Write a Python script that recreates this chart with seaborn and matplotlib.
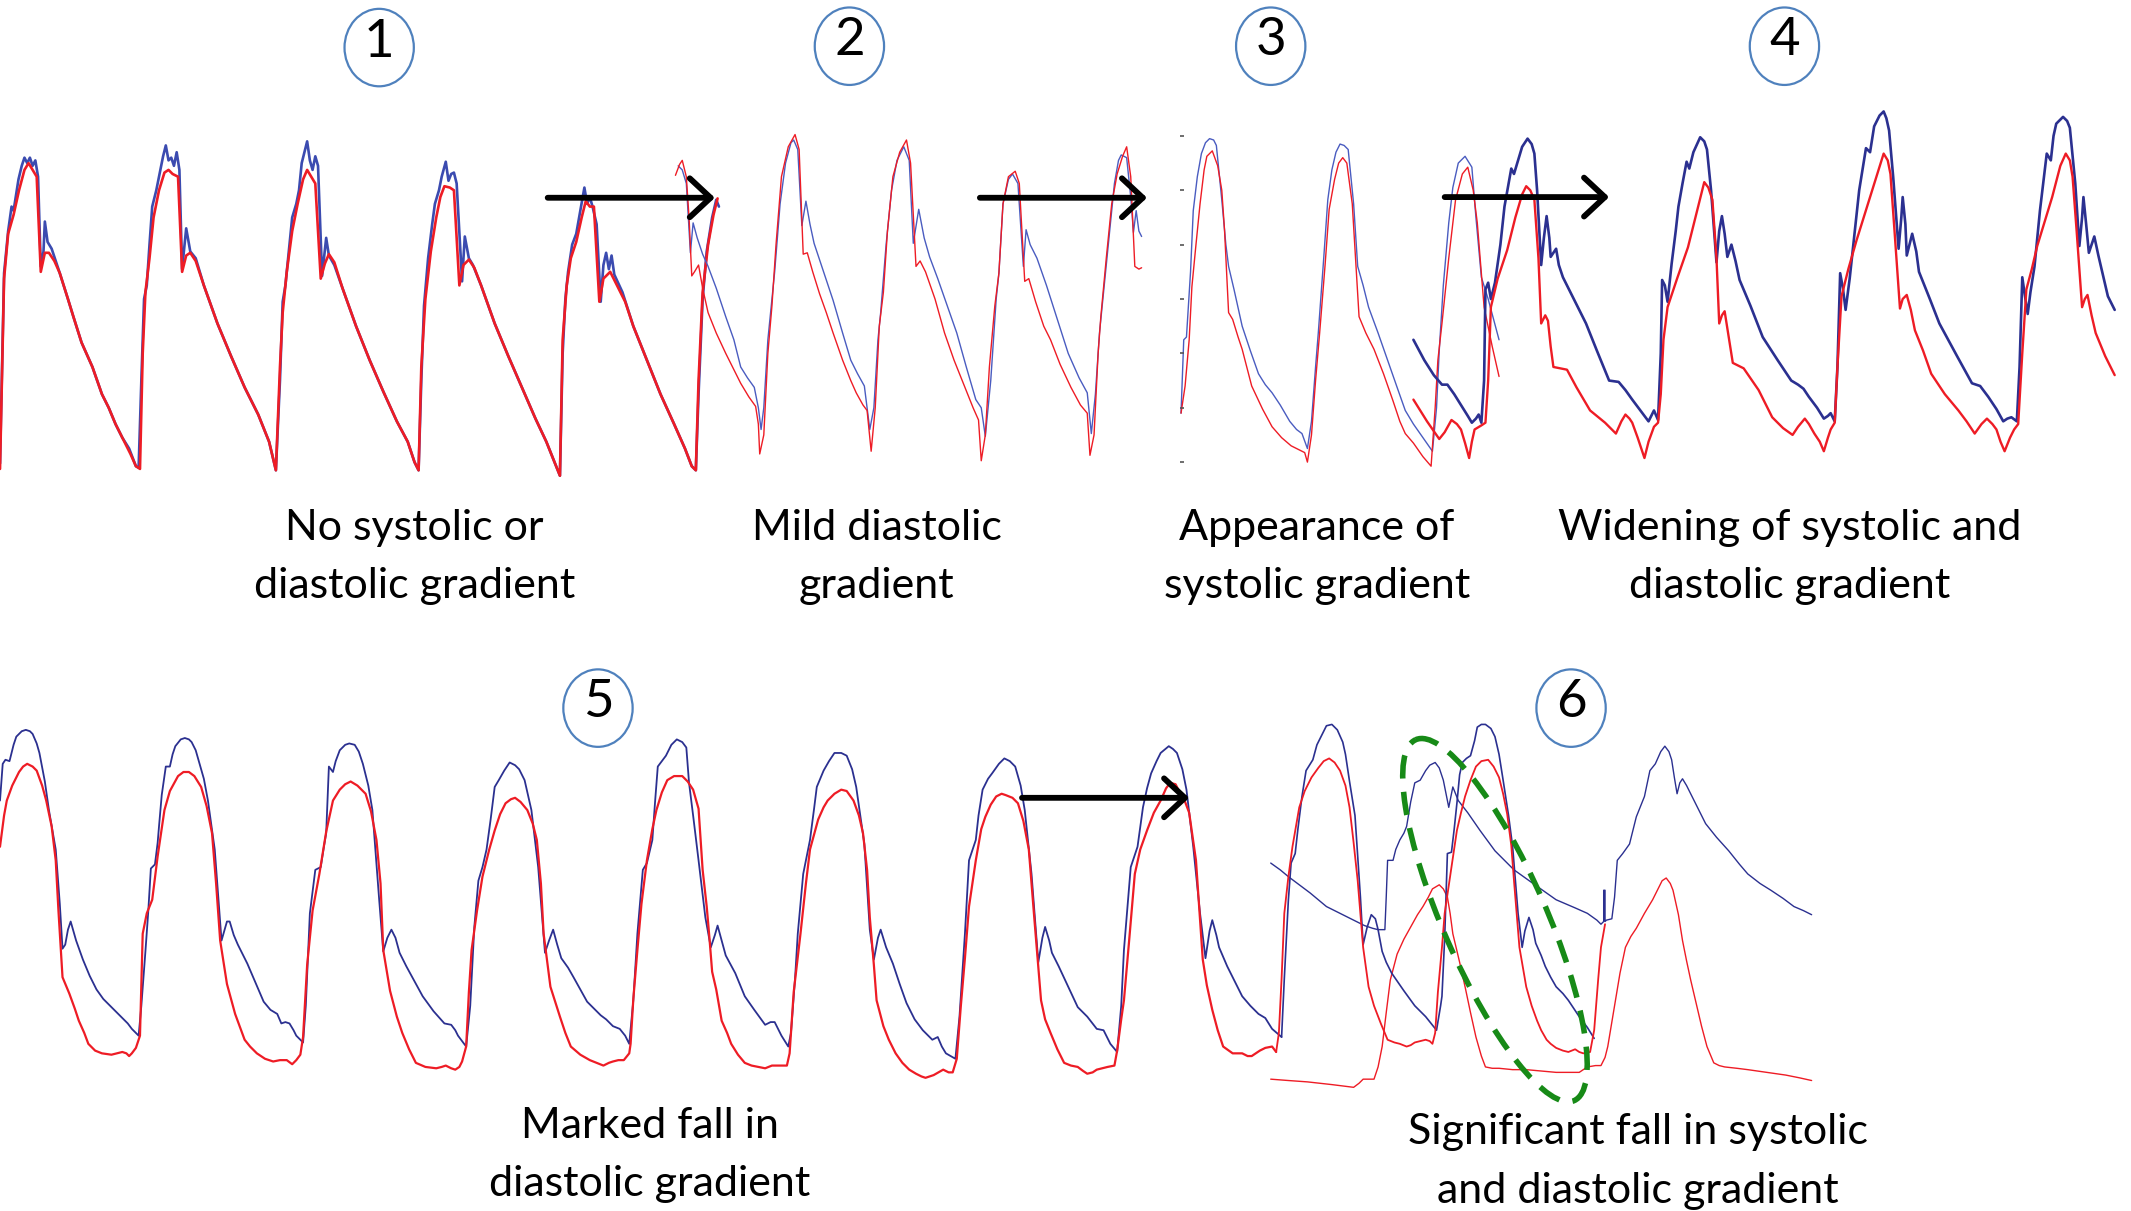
import matplotlib
matplotlib.use("Agg")
import matplotlib.pyplot as plt
import seaborn as sns
from matplotlib.patches import Ellipse

# ---------------- data (picture coordinates) ----------------
P1_BLUE = [(0,341),(3,201),(6,170),(8.5,152),(10,155),(13.6,132),(16,122),(18,116),(20,120),(22,116),(24,122),(26,118),(28,130),(30,196),(32,185),(33,163),(35,178),(38,183),(42,195),(44,201),(50,220),(54,233),(60,252),(68,270),(75,290),(80,300),(85,312),(90,322),(95,330),(100,343),(102,344),
           (104,280),(106,220),(108,210),(110,180),(112,152),(115,140),(117,130),(120,115),(122,107),(124,118),(126,116),(128,122),(130,112),(132,125),(134,198),(137,168),(140,185),(144,190),(150,210),(160,238),(170,262),(180,285),(190,305),(198,325),(203,346),
           (206,280),(208,222),(210,210),(212,190),(215,160),(218,150),(220,140),(222,120),(224,112),(226,104),(228,118),(230,125),(232,115),(234,122),(237,203),(240,175),(242,188),(246,195),(252,212),(262,240),(272,265),(282,288),(292,310),(300,325),(305,340),(308,346),
           (310,280),(312,225),(315,190),(318,165),(320,150),(323,140),(325,130),(328,119),(330,133),(332,128),(334,127),(336,135),(340,207),(342,174),(345,190),(348,195),(354,210),(364,238),(374,262),(384,285),(394,308),(402,325),(408,340),(412,350),
           (414,260),(416,220),(418,200),(421,180),(424,172),(427,155),(430,138),(432,150),(434,145),(436,152),(439,165),(442,222),(444,195),(446,186),(448,198),(450,188),(452,202),(458,215),(466,240),(476,265),(486,290),(496,312),(504,330),(509,343),(512,346),
           (514,290),(517,220),(520,185),(524,160),(527,147),(529,152)]
P1_RED = [(0,345),(3,205),(6,172),(10,158),(14,140),(18,125),(21,120),(24,125),(27,130),(30,200),(33,186),(36,186),(40,192),(44,201),(50,220),(54,233),(60,252),(68,270),(75,290),(80,300),(85,312),(90,322),(96,334),(100,343),(103,345),
          (105,260),(107,215),(110,190),(113,160),(117,140),(121,127),(124,125),(127,128),(131,130),(134,200),(137,188),(140,186),(144,192),(150,210),(160,238),(170,262),(180,285),(190,305),(198,325),(203,346),
          (206,270),(208,230),(211,200),(215,170),(219,150),(223,132),(226,125),(229,130),(232,135),(236,205),(239,194),(242,187),(246,193),(252,212),(262,240),(272,265),(282,288),(292,310),(300,325),(305,340),(308,346),
          (310,270),(313,220),(317,185),(321,160),(324,145),(327,137),(331,138),(334,140),(338,210),(341,195),(345,191),(349,197),(354,210),(364,238),(374,262),(384,285),(394,308),(402,325),(408,340),(412,350),
          (414,250),(417,210),(420,190),(424,178),(428,160),(431,148),(434,152),(437,152),(441,222),(444,205),(449,200),(454,210),(460,222),(466,240),(476,265),(486,290),(496,312),(504,330),(509,343),(512,346),
          (514,280),(517,215),(521,180),(525,158),(528,146)]

P2_BLUE = [(499,122),(502,125),(505,135),(508,186),(510,164),(513,175),(517,187),(521,196),(527,212),(534,233),(540,250),(545,270),(550,278),(555,285),(558,300),(560,316),
           (562,300),(565,250),(567,230),(570,200),(574,150),(578,120),(582,105),(584,103),(587,110),(590,166),(593,148),(596,165),(599,179),(606,200),(613,221),(620,245),(626,265),(631,275),(636,284),(640,316),
           (643,300),(646,250),(648,230),(652,180),(656,140),(660,118),(665,108),(669,118),(672,179),(676,154),(680,175),(684,189),(690,205),(697,225),(704,245),(711,270),(718,294),(722,300),(725,321),
           (729,280),(733,220),(735,201),(738,150),(742,132),(745,128),(749,135),(753,196),(755,169),(758,180),(763,190),(770,210),(778,235),(786,260),(794,278),(800,289),(803,319),
           (806,290),(809,245),(812,215),(816,175),(820,135),(823,118),(825,114),(829,116),(832,145),(834,171),(836,155),(838,170),(840,174)]
P2_RED = [(497,129),(500,121),(502,118),(505,130),(507,160),(509,203),(511,200),(514,195),(517,212),(521,230),(527,245),(534,260),(540,272),(545,282),(551,292),(556,299),(558,312),(559,334),
          (562,320),(565,260),(568,225),(571,180),(575,130),(580,108),(585,99),(588,110),(591,187),(594,186),(598,200),(603,216),(608,230),(613,245),(620,265),(626,280),(630,289),(635,298),(638,302),(641,332),
          (644,300),(647,240),(650,215),(653,170),(657,130),(662,112),(667,103),(670,120),(674,196),(677,192),(681,200),(688,220),(695,245),(702,265),(710,285),(716,300),(720,309),(722,339),
          (725,320),(728,270),(732,225),(735,201),(738,150),(742,130),(747,126),(750,135),(754,207),(757,205),(762,222),(768,240),(773,250),(780,268),(788,285),(795,298),(800,304),(802,335),
          (805,320),(808,260),(810,233),(814,190),(818,150),(822,128),(826,115),(829,108),(832,130),(835,196),(838,198),(840,197)]

P3_BLUE = [(869,304),(871,250),(873,248),(876,200),(878,155),(881,130),(884,113),(887,105),(890,102),(893,103),(895,107),(899,147),(902,180),(904,196),(908,213),(914,240),(920,258),(926,275),(931,283),(936,289),(942,298),(949,310),(954,316),(958,319),(962,330),
           (965,310),(968,270),(970,245),(974,190),(977,147),(980,125),(983,112),(986,106),(989,107),(992,110),(996,150),(999,196),(1003,210),(1007,226),(1014,245),(1021,265),(1028,285),(1034,302),(1040,312),(1047,322),(1054,332),
           (1057,300),(1059,258),(1062,210),(1066,164),(1069,138),(1073,120),(1078,115),(1083,123),(1086,160),(1090,204),(1095,220),(1099,235),(1103,250)]
P3_RED = [(869,304),(872,284),(875,250),(877,211),(880,180),(883,150),(886,125),(888,115),(892,111),(896,122),(899,140),(901,169),(904,230),(907,235),(911,248),(914,257),(921,284),(929,301),(936,314),(943,322),(950,328),(956,331),(960,333),(962,340),
          (965,320),(968,280),(971,245),(975,195),(978,154),(982,132),(985,120),(988,116),(991,120),(995,150),(1000,233),(1005,245),(1011,257),(1018,275),(1025,295),(1030,310),(1034,319),(1040,326),(1047,336),(1053,343),
          (1056,300),(1058,265),(1061,238),(1066,190),(1071,147),(1076,128),(1080,123),(1084,140),(1087,164),(1092,226),(1098,255),(1103,277)]
P3_TICKS_Y = [100, 140, 180, 220, 260, 300, 340]

P4_BLUE = [(1040,250),(1048,265),(1055,276),(1061,283),(1065,283),(1070,290),(1075,298),(1080,306),(1083,311),(1086,308),(1088,305),(1090,311),(1092,280),(1093,213),(1095,208),(1097,220),(1100,208),(1104,180),(1107,152),(1110,135),(1112,124),(1114,128),(1117,118),(1120,108),(1124,102),(1127,106),(1129,113),(1131,140),(1134,195),(1136,175),(1138,159),(1140,175),(1141,189),(1143,186),(1145,183),(1147,195),(1150,204),(1158,220),(1167,238),(1175,258),(1184,280),(1191,281),(1196,287),(1201,294),(1207,302),(1213,310),(1215,306),(1217,302),(1220,309),
           (1222,260),(1223,206),(1225,210),(1227,222),(1230,194),(1233,170),(1235,152),(1238,135),(1241,119),(1243,124),(1246,112),(1251,101),(1254,104),(1256,110),(1259,140),(1263,193),(1265,170),(1267,159),(1269,172),(1271,189),(1274,180),(1277,192),(1280,206),(1288,225),(1297,248),(1308,265),(1318,280),(1323,283),(1327,286),(1331,292),(1337,300),(1342,308),(1345,306),(1347,304),(1350,310),
           (1352,270),(1354,201),(1356,212),(1358,228),(1361,205),(1364,177),(1368,140),(1373,109),(1376,112),(1379,93),(1383,85),(1386,82),(1388,87),(1390,96),(1393,130),(1397,183),(1399,160),(1400,145),(1402,165),(1403,188),(1405,180),(1407,172),(1410,185),(1412,200),(1420,220),(1427,238),(1440,262),(1451,282),(1457,284),(1463,292),(1469,301),(1474,310),(1477,308),(1480,307),(1484,310),
           (1486,270),(1488,204),(1490,218),(1492,231),(1494,215),(1497,196),(1501,155),(1506,113),(1509,118),(1511,100),(1513,91),(1518,86),(1521,89),(1523,94),(1527,135),(1530,181),(1532,160),(1533,145),(1535,165),(1537,186),(1539,180),(1541,174),(1544,188),(1547,201),(1551,218),(1556,228)]
P4_RED = [(1040,294),(1050,310),(1059,323),(1063,318),(1068,309),(1072,312),(1075,316),(1078,326),(1081,337),(1083,325),(1085,316),(1090,313),(1093,311),(1095,280),(1097,226),(1102,205),(1109,184),(1115,160),(1120,143),(1123,137),(1126,140),(1129,147),(1132,190),(1134,238),(1137,232),(1139,236),(1141,255),(1143,270),(1148,271),(1153,272),(1160,285),(1170,302),(1181,311),(1189,319),(1193,310),(1196,305),(1199,308),(1201,311),(1205,322),(1210,337),(1213,325),(1217,314),(1220,311),
          (1222,290),(1224,250),(1227,226),(1234,205),(1242,182),(1248,158),(1254,134),(1257,138),(1260,147),(1263,190),(1265,238),(1267,232),(1269,229),(1272,248),(1275,267),(1283,271),(1294,287),(1304,307),(1312,315),(1319,320),(1323,314),(1328,308),(1331,312),(1335,319),(1339,325),(1342,332),(1345,322),(1347,316),(1350,311),
          (1352,270),(1355,218),(1360,198),(1366,177),(1376,145),(1386,113),(1389,118),(1391,128),(1394,170),(1398,227),(1400,220),(1403,217),(1406,228),(1409,243),(1415,258),(1421,275),(1431,290),(1441,302),(1447,310),(1453,319),(1458,312),(1462,308),(1466,312),(1469,316),(1472,325),(1475,332),(1479,322),(1482,316),(1485,312),
          (1488,260),(1491,213),(1495,198),(1499,181),(1510,145),(1516,122),(1520,113),(1523,118),(1525,130),(1528,170),(1532,226),(1534,220),(1536,217),(1539,232),(1542,245),(1549,262),(1556,276)]

P5_BLUE = [(0,589),(2,562),(4,559),(7,560),(10,548),(12,542),(16,538),(19,537),(22,538),(24,540),(27,547),(29,554),(33,575),(36,596),(41,625),(44,665),(46,698),(48,695),(50,684),(52,678),(54,685),(56,692),(61,706),(66,718),(71,728),(76,735),(82,741),(86,745),(90,749),(94,753),(97,757),(102,762),
           (104,740),(107,700),(109,672),(111,639),(114,636),(116,620),(117,608),(119,585),(122,564),(125,564),(127,555),(129,549),(133,544),(136,543),(139,544),(141,546),(144,552),(146,559),(150,573),(153,589),(158,625),(161,665),(163,692),(165,685),(167,678),(169,678),(172,688),(175,695),(182,709),(188,723),(194,737),(199,743),(204,746),(207,753),(210,752),(213,753),(216,758),(218,762),(223,767),
           (225,740),(228,672),(232,640),(236,638),(238,625),(240,613),(242,564),(245,568),(247,560),(250,552),(254,548),(257,547),(261,548),(264,553),(267,562),(271,578),(274,596),(279,662),(282,700),(285,690),(288,684),(291,690),(294,701),(299,711),(305,722),(311,733),(319,744),(327,753),(332,754),(335,758),(337,762),(343,770),
           (346,740),(349,682),(352,648),(355,638),(358,625),(361,603),(364,579),(367,574),(371,567),(375,561),(379,563),(382,566),(386,574),(391,596),(396,638),(401,701),(404,692),(407,684),(410,695),(413,705),(418,712),(422,719),(427,728),(432,737),(437,742),(442,747),(446,750),(451,755),(456,757),(460,762),(463,768),
           (466,736),(469,687),(473,640),(476,635),(480,618),(482,590),(484,564),(487,560),(490,556),(494,548),(498,544),(502,546),(505,550),(507,576),(510,600),(514,633),(519,675),(523,697),(526,688),(528,681),(531,692),(534,703),(541,716),(548,733),(555,743),(563,754),(567,752),(570,752),(575,762),(580,770),
           (582,760),(585,720),(587,687),(591,643),(596,618),(599,595),(601,579),(606,567),(610,560),(614,554),(619,554),(623,556),(627,566),(630,579),(633,600),(636,621),(640,684),(643,706),(646,690),(648,684),(652,697),(657,709),(662,724),(667,738),(673,750),(679,758),(686,765),(690,763),(693,770),(696,775),(703,779),
           (706,748),(710,687),(713,633),(718,618),(720,600),(723,581),(727,573),(730,569),(735,562),(739,558),(743,560),(747,564),(751,578),(754,596),(759,643),(764,708),(767,690),(769,682),(772,692),(774,701),(779,711),(786,726),(793,741),(800,748),(807,757),(812,758),(817,768),(822,774),
           (825,740),(827,699),(832,638),(837,623),(841,594),(844,580),(847,569),(851,560),(854,554),(860,549),(863,551),(866,554),(870,566),(873,581),(878,623),(883,672),(887,705),(890,685),(892,677),(895,688),(897,697),(903,711),(909,723),(914,733),(920,740),(926,746),(931,749),(936,757),(943,763)]
P5_RED = [(0,623),(3,600),(5,589),(9,578),(14,568),(17,564),(20,562),(24,564),(27,567),(31,578),(34,589),(38,608),(41,633),(43,670),(46,719),(51,731),(55,742),(58,751),(62,760),(65,768),(70,773),(75,775),(82,776),(90,774),(93,775),(95,777),(97,775),(100,771),(103,762),
          (105,687),(108,672),(112,662),(116,630),(121,596),(125,582),(131,571),(135,568),(139,568),(143,571),(148,579),(152,593),(156,613),(159,650),(162,692),(167,724),(173,746),(180,765),(184,770),(189,775),(195,779),(201,781),(206,780),(211,780),(215,783),(218,780),(221,776),(223,763),
          (226,710),(230,670),(235,643),(240,612),(245,589),(250,581),(254,577),(258,575),(263,578),(269,584),(273,597),(277,618),(280,650),(282,699),(287,729),(292,748),(296,760),(301,772),(306,782),(313,785),(321,786),(325,785),(328,784),(332,786),(335,787),(338,785),(340,781),(343,770),
          (345,730),(347,699),(351,670),(355,645),(360,625),(364,611),(368,599),(372,591),(376,588),(379,587),(383,590),(388,596),(392,606),(395,618),(398,650),(400,687),(405,726),(412,748),(416,760),(420,770),(427,776),(434,780),(439,782),(444,784),(448,782),(451,781),(455,780),(459,780),(463,775),(464,768),
          (466,735),(469,699),(472,665),(476,633),(480,610),(483,596),(487,583),(491,574),(496,571),(502,571),(506,575),(510,581),(514,595),(517,640),(520,667),(522,690),(524,715),(527,728),(531,751),(535,760),(538,768),(543,776),(548,782),(553,784),(558,785),(563,786),(568,784),(574,784),(579,784),(581,775),
          (584,730),(589,687),(593,650),(596,625),(602,603),(606,594),(609,589),(614,584),(619,581),(623,582),(628,589),(632,600),(635,613),(638,640),(640,675),(643,710),(645,736),(650,755),(654,765),(659,775),(664,782),(669,787),(674,790),(678,792),(681,793),(687,791),(694,787),(698,789),(701,789),(704,779),
          (707,740),(710,705),(713,667),(718,633),(722,610),(725,601),(729,592),(733,586),(737,584),(740,585),(745,587),(749,591),(753,604),(757,625),(761,675),(766,736),(769,750),(773,760),(778,772),(783,782),(788,784),(793,785),(797,788),(800,790),(804,789),(807,787),(811,786),(815,785),(820,784),(822,773),
          (825,750),(827,736),(831,690),(835,643),(839,625),(844,611),(849,598),(854,589),(858,580),(861,576),(865,577),(868,583),(872,590),(875,598),(880,633),(885,706),(888,725),(892,743),(896,758),(900,770),(907,775),(914,775),(918,777),(921,777),(924,775),(927,773),(931,771),(936,770),(939,774)]

P6_BLUE = [(943,763),(945,720),(948,662),(950,635),(953,628),(955,610),(958,586),(961,567),(966,559),(969,548),(973,540),(976,534),(980,533),(984,537),(988,546),(990,555),(993,575),(997,600),(1001,660),(1003,695),(1006,682),(1009,673),(1012,676),(1014,684),(1017,700),(1020,708),(1024,716),(1033,729),(1041,740),(1049,748),(1053,753),(1057,758),
           (1060,740),(1061,733),(1063,690),(1065,628),(1068,627),(1070,610),(1072,591),(1074,570),(1076,561),(1079,558),(1082,556),(1085,545),(1087,535),(1090,533),(1093,533),(1097,536),(1100,542),(1103,555),(1106,574),(1110,600),(1113,623),(1117,672),(1120,697),(1122,685),(1125,675),(1128,684),(1130,694),(1134,703),(1137,711),(1141,719),(1145,726),(1150,731),(1154,736),(1158,742),(1162,748),(1168,756),(1173,764)]
P6_RED = [(939,774),(941,760),(943,720),(945,672),(948,645),(951,623),(956,594),(960,582),(965,572),(970,565),(974,560),(978,558),(982,561),(986,567),(990,578),(993,594),(996,620),(999,648),(1003,697),(1007,726),(1011,740),(1016,753),(1021,765),(1026,767),(1030,768),(1035,770),(1038,769),(1041,767),(1045,766),(1049,765),(1052,766),(1054,768),
          (1056,760),(1058,730),(1061,697),(1063,672),(1068,638),(1072,611),(1075,598),(1078,586),(1082,574),(1086,564),(1090,560),(1095,559),(1099,564),(1103,572),(1106,584),(1109,599),(1112,622),(1114,648),(1118,697),(1123,726),(1127,740),(1131,751),(1134,758),(1138,765),(1141,768),(1145,771),(1150,773),(1154,774),(1159,772),(1162,774),(1165,775),(1170,774),(1173,758),(1176,720),(1178,697),(1181,680)]
P6_BLUE_SHIFTED = [(935,635),(942,640),(948,645),(956,651),(964,657),(970,662),(976,667),(986,672),(996,677),(1004,681),(1010,683),(1014,684),(1019,684),(1020,660),(1021,633),(1025,633),(1027,625),(1030,618),(1033,613),(1035,608),(1038,590),(1041,576),(1045,574),(1049,567),(1052,563),(1056,561),(1059,565),(1062,574),(1066,594),(1069,579),(1073,589),(1080,598),(1089,611),(1100,626),(1114,640),(1128,650),(1145,662),(1159,668),(1168,672),(1175,677),(1178,680),(1180,678),(1180,655),(1181,655),(1181,678),(1182,677),(1186,676),
                   (1188,660),(1190,633),(1194,628),(1199,621),(1204,601),(1210,586),(1214,567),(1218,562),(1222,553),(1225,549),(1228,553),(1230,559),(1232,572),(1234,584),(1236,576),(1238,573),(1241,578),(1244,584),(1250,596),(1255,606),(1263,616),(1272,626),(1280,636),(1286,643),(1295,650),(1303,655),(1312,661),(1320,667),(1327,670),(1333,673)]
P6_RED_SHIFTED = [(935,794),(948,795),(962,796),(980,798),(996,800),(1000,797),(1003,794),(1008,794),(1011,794),(1014,785),(1017,770),(1020,745),(1023,721),(1028,702),(1033,691),(1038,682),(1043,673),(1047,667),(1051,660),(1054,654),(1059,651),(1062,654),(1065,660),(1067,672),(1069,687),(1074,708),(1078,726),(1082,745),(1086,763),(1090,777),(1093,785),(1098,786),(1103,786),(1113,787),(1123,787),(1134,788),(1145,789),(1155,789),(1162,789),(1165,787),(1168,785),(1174,784),(1178,784),(1181,778),(1183,770),
                  (1187,746),(1192,716),(1196,697),(1200,689),(1204,683),(1210,672),(1216,662),(1220,654),(1223,648),(1226,646),(1229,650),(1231,655),(1235,673),(1238,692),(1241,707),(1244,721),(1248,738),(1252,755),(1256,770),(1261,782),(1265,784),(1269,785),(1278,786),(1286,787),(1300,789),(1314,791),(1324,793),(1333,795)]

STAGE_NUMBERS = ["1", "2", "3", "4", "5", "6"]
STAGE_CENTERS = [(279, 35), (625, 34), (935, 34), (1313, 34), (440, 521), (1156, 521)]
CAPTIONS = [["No systolic or", "diastolic gradient"],
            ["Mild diastolic", "gradient"],
            ["Appearance of", "systolic gradient"],
            ["Widening of systolic and", "diastolic gradient"],
            ["Marked fall in", "diastolic gradient"],
            ["Significant fall in systolic", "and diastolic gradient"]]
CAPTION_X = [305, 645, 969, 1317, 478, 1205]
CAPTION_BASELINE = [397, 397, 397, 397, 837, 842]
ARROWS = [((403, 145.5), (526, 145.5)), ((721, 145.5), (844, 145.5)),
          ((1063, 145), (1184, 145)), ((752, 587), (875, 587))]

# ---------------- drawing ----------------
sns.set_theme(style="white")
plt.rcParams["font.family"] = ["Lato", "DejaVu Sans"]

fig = plt.figure(figsize=(21.31, 12.11), dpi=100)
ax = fig.add_axes([0, 0, 1, 1])

BLUE_MID = "#3b4bb0"
BLUE_LIGHT = "#4a5cc0"
NAVY = "#2b3090"
RED = "#ee1c25"


def trace(points, color, lw):
    xs = [p[0] for p in points]
    ys = [p[1] for p in points]
    sns.lineplot(x=xs, y=ys, ax=ax, sort=False, estimator=None, color=color,
                 linewidth=lw, solid_joinstyle="round", solid_capstyle="round")


trace(P1_BLUE, BLUE_MID, 1.9)
trace(P1_RED, RED, 1.9)
trace(P2_BLUE, BLUE_LIGHT, 1.0)
trace(P2_RED, RED, 1.0)
trace(P3_BLUE, BLUE_LIGHT, 1.0)
trace(P3_RED, RED, 1.0)
trace(P4_BLUE, NAVY, 1.9)
trace(P4_RED, RED, 1.7)
trace(P5_BLUE, NAVY, 1.3)
trace(P5_RED, RED, 1.6)
trace(P6_BLUE_SHIFTED, NAVY, 1.0)
trace(P6_RED_SHIFTED, RED, 1.0)
trace(P6_BLUE, NAVY, 1.2)
trace(P6_RED, RED, 1.3)

ax.hlines(P3_TICKS_Y, 868.5, 871.5, color="#555555", linewidth=1.2)

for (x0, y0), (x1, y1) in ARROWS:
    ax.annotate("", xy=(x1, y1), xytext=(x0, y0),
                arrowprops=dict(arrowstyle="->,head_length=0.75,head_width=0.7",
                                lw=4.2, color="black", mutation_scale=20,
                                shrinkA=0, shrinkB=0, capstyle="round",
                                joinstyle="round"))

for num, (cx, cy) in zip(STAGE_NUMBERS, STAGE_CENTERS):
    ax.add_patch(Ellipse((cx, cy), 51, 57, facecolor="white", edgecolor="#4f81bd",
                         linewidth=1.6, zorder=5))
    ax.text(cx, cy - 4, num, ha="center", va="center", fontsize=38, color="black",
            zorder=6)

for lines, cx, base in zip(CAPTIONS, CAPTION_X, CAPTION_BASELINE):
    for i, line in enumerate(lines):
        ax.text(cx, base + i * 43, line, ha="center", va="baseline", fontsize=31,
                color="black")

ax.add_patch(Ellipse((1100, 677), 76, 290, angle=-23.7, facecolor="none",
                     edgecolor="#178a17", linewidth=4.0,
                     linestyle=(0, (4.2, 2.4)), zorder=7))

ax.set_xlim(0, 1568)
ax.set_ylim(891, 0)
ax.set_axis_off()
fig.savefig("out.png", dpi=100, facecolor="white")
